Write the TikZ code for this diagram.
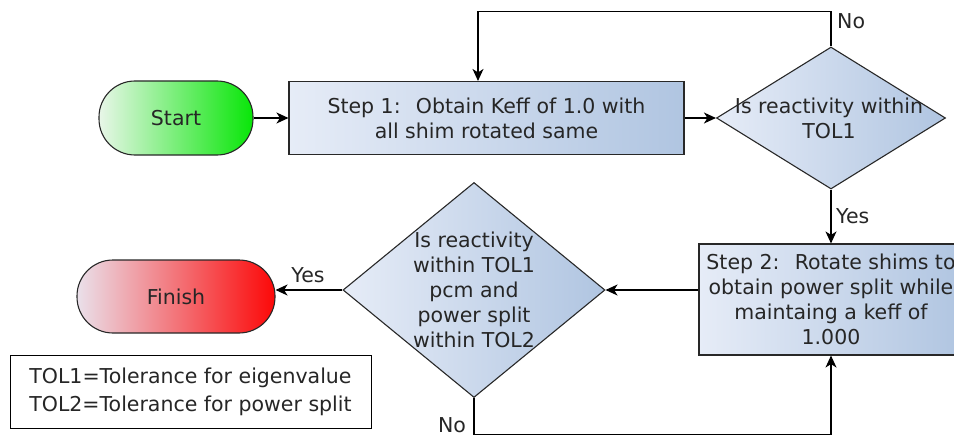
\documentclass[tikz,border=0pt]{standalone}
\usepackage{fontspec}
\setmainfont{DejaVu Sans}
\usetikzlibrary{arrows.meta,shapes.geometric,calc}

\definecolor{blueL}{RGB}{230,236,247}
\definecolor{blueR}{RGB}{176,197,225}
\definecolor{greenL}{RGB}{232,246,232}
\definecolor{greenR}{RGB}{8,230,8}
\definecolor{redL}{RGB}{234,224,234}
\definecolor{redR}{RGB}{252,8,8}
\definecolor{edge}{RGB}{40,40,40}

\tikzset{
  every node/.style={font=\fontsize{20.5}{25}\selectfont, text=black!85},
  procbox/.style={draw=edge, line width=1.1pt, rectangle, inner sep=0pt,
    left color=blueL, right color=blueR, align=center},
  terminal/.style={draw=edge, line width=1.1pt, rectangle, inner sep=0pt,
    rounded corners=36pt},
  decision/.style={draw=edge, line width=1.1pt, diamond, inner sep=0pt,
    left color=blueL, right color=blueR},
  flow/.style={draw=black, line width=1.1pt,
    -{Stealth[length=12pt,width=11pt,inset=3.5pt]}},
  tag/.style={inner sep=0pt}
}

\begin{document}
\begin{tikzpicture}[x=1pt,y=-1pt]
  \useasboundingbox (0,0) rectangle (954,436);
  \clip (0,0) rectangle (954,436);

  % terminals
  \node[terminal, left color=greenL, right color=greenR,
        minimum width=154pt, minimum height=74pt] (start) at (176,118) {Start};
  \node[terminal, left color=redL, right color=redR,
        minimum width=198pt, minimum height=73pt] (finish) at (176,296.5) {Finish};

  % process steps
  \node[procbox, minimum width=395pt, minimum height=73pt] (step1) at (486.5,118)
    {Step 1:~ Obtain Keff of 1.0 with\\all shim rotated same};
  \node[procbox, minimum width=264pt, minimum height=111pt] (step2) at (831,299.5)
    {Step 2:~ Rotate shims to\\obtain power split while\\maintaing a keff of\\1.000};

  % decisions
  \node[decision, minimum width=229pt, minimum height=142pt] (d1) at (831,118) {};
  \node[align=center] (d1text) at (829,118) {Is reactivity within\\TOL1};
  \node[decision, minimum width=262pt, minimum height=215pt] (d2) at (474,290) {};
  \node[align=center] (d2text) at (474,290)
    {Is reactivity\\within TOL1\\pcm and\\power split\\within TOL2};

  % legend
  \node[draw=black, line width=1pt, rectangle, minimum width=361pt,
        minimum height=73pt, align=center, fill=white,
        font=\fontsize{20.5}{28}\selectfont] (legend) at (190.5,391.5)
    {TOL1=Tolerance for eigenvalue\\TOL2=Tolerance for power split};

  % connectors
  \draw[flow] (start.east) -- (start.east -| step1.west);
  \draw[flow] (step1.east) -- (step1.east -| d1.west);
  \coordinate (loopA) at ($(d1.north)+(0,-35)$);
  \draw[flow] (d1.north) -- (loopA) -| ([xshift=-8.5pt]step1.north);
  \draw[flow] (d1.south) -- (d1.south |- step2.north);
  \draw[flow] (d2.east -| step2.west) -- (d2.east);
  \draw[flow] (d2.west) -- (d2.west -| finish.east);
  \coordinate (loopB) at ($(d2.south)+(0,36)$);
  \draw[flow] (d2.south) -- (loopB) -| (step2.south);

  % branch labels
  \node[tag, anchor=west] (no1) at (837,21) {No};
  \node[tag, anchor=west] (yes1) at (836,216) {Yes};
  \node[tag] (yes2) at (308,275) {Yes};
  \node[tag] (no2) at (452,425) {No};
\end{tikzpicture}
\end{document}
